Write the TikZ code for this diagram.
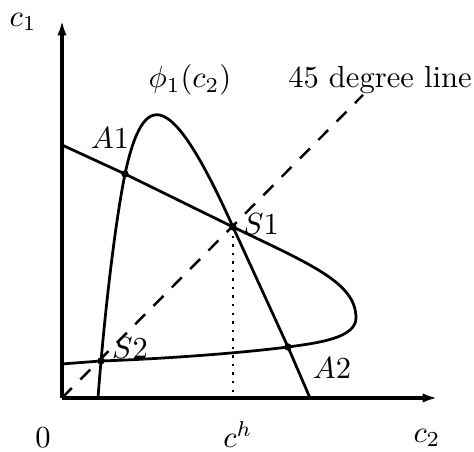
\documentclass[tikz,border=0pt]{standalone}
\usepackage{amsmath}
\usepackage{tikz}
\usetikzlibrary{positioning, calc, arrows.meta}

\begin{document}
\begin{tikzpicture}[x=1.15cm, y=1.15cm,
    axis/.style={line width=1.1pt, -{Latex[length=5pt, width=3pt]}},
    curve/.style={line width=0.9pt},
    crossdot/.style={circle, fill, inner sep=0pt, minimum size=2.4pt},
    lab/.style={inner sep=1pt}]
        \useasboundingbox (-0.62,-0.54) rectangle (4.12,3.98);

        % Axes
        \coordinate (O) at (0,0);
        \coordinate (xend) at (3.76,0);
        \coordinate (yend) at (0,3.78);
        \draw[axis] (O) -- (xend);
        \draw[axis] (O) -- (yend);

        % Intersection points
        \coordinate (A1) at (0.63,2.24);
        \coordinate (S1) at (1.71,1.71);
        \coordinate (A2) at (2.26,0.51);
        \coordinate (S2) at (0.39,0.37);

        % 45 degree line and c^h
        \coordinate (diagend) at (3.01,3.03);
        \draw[line width=0.8pt, dash pattern=on 4.6pt off 3.9pt] (O) -- (diagend);
        \coordinate (ch) at (S1 |- O);
        \draw[line width=0.8pt, dotted] (S1) -- (ch);

        % phi_1(c_2)
        \coordinate (phibot) at (0.36,0);
        \coordinate (phiend) at (2.48,0);
        \draw[curve] (phibot) .. controls (0.42,0.8) and (0.53,1.75) .. (A1)
          .. controls (0.82,3.12) and (1.095,3.08) .. (S1) -- (A2) -- (phiend);

        % second locus
        \coordinate (locstart) at (0,2.53);
        \coordinate (nose) at (2.94,0.80);
        \coordinate (locend) at (0,0.34);
        \draw[curve] (locstart) -- (A1) -- (S1)
          .. controls (2.50,1.33) and (2.94,1.15) .. (nose)
          .. controls (2.94,0.60) and (2.56,0.55) .. (A2)
          .. controls (1.80,0.45) and (1.00,0.39) .. (S2) -- (locend);

        % Dots where the curves cross
        \foreach \pt in {A1, S1, A2, S2} {
          \node[crossdot] (d\pt) at (\pt) {};
        }

        % Labels
        \node[lab] (c1) at (-0.39,3.76) {$c_1$};
        \node[lab] (c2) at (3.65,-0.40) {$c_2$};
        \node[lab] (zero) at (-0.19,-0.40) {$0$};
        \node[lab] (chlab) at (1.76,-0.37) {$c^h$};
        \node[lab] (phi) at (1.28,3.18) {$\phi_1(c_2)$};
        \node[lab] (deg) at (3.18,3.18) {45 degree line};
        \node[lab] (lA1) at (0.48,2.60) {$A1$};
        \node[lab] (lS1) at (1.99,1.74) {$S1$};
        \node[lab] (lS2) at (0.68,0.50) {$S2$};
        \node[lab] (lA2) at (2.70,0.30) {$A2$};
      \end{tikzpicture}
\end{document}
